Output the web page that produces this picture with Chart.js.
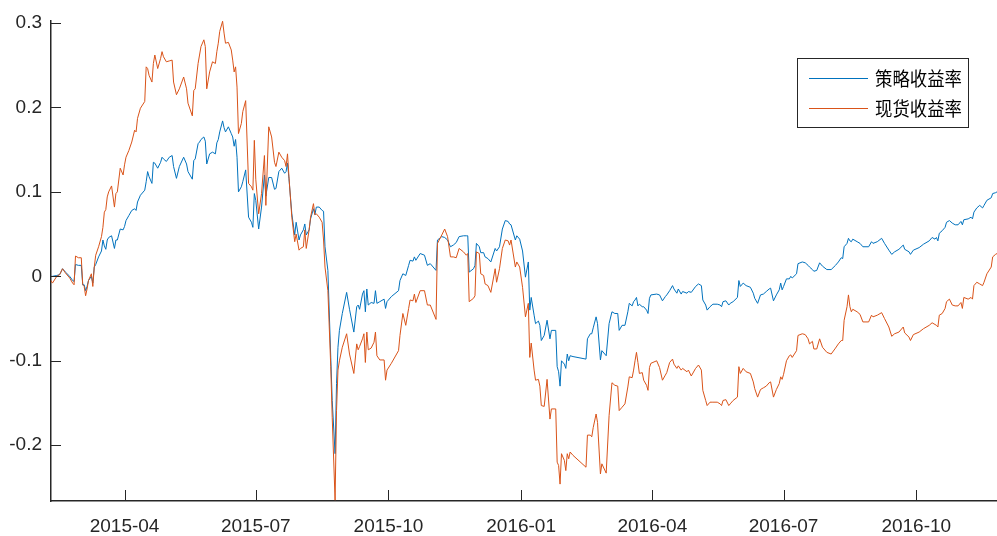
<!DOCTYPE html>
<html>
<head>
<meta charset="utf-8">
<title>策略收益率 vs 现货收益率</title>
<script src="https://cdn.jsdelivr.net/npm/chart.js@4.4.0/dist/chart.umd.min.js"></script>
<style>
    html, body { margin: 0; padding: 0; background: #fff; }
    #wrap { width: 997px; height: 536px; }
</style>
</head>
<body>
<div id="wrap"><canvas id="returnChart" width="997" height="536"></canvas></div>
<script>
// x 值: 距起始日的天数
const startDate = '2015-02-09';

const dayOffsets = [
    0, 1, 4, 6, 8, 10, 13, 15, 16, 17,
    19, 21, 22, 23, 24, 25, 26, 28, 29, 30,
    31, 33, 35, 36, 37, 38, 39, 40, 42, 44,
    45, 46, 48, 50, 51, 52, 54, 56, 58, 59,
    60, 62, 65, 66, 67, 68, 70, 71, 72, 74,
    76, 77, 78, 80, 82, 84, 85, 87, 89, 92,
    94, 95, 98, 99, 100, 102, 103, 104, 106, 107,
    108, 110, 112, 114, 115, 116, 117, 119, 120, 121,
    123, 125, 126, 127, 128, 129, 130, 132, 133, 135,
    137, 139, 140, 141, 142, 144, 146, 148, 149, 151,
    153, 155, 156, 158, 160, 162, 163, 164, 165, 167,
    169, 170, 172, 173, 175, 176, 177, 179, 180, 182,
    183, 184, 186, 188, 189, 190, 192, 194, 195, 197,
    198, 199, 200, 202, 205, 207, 210, 212, 213, 214,
    216, 217, 218, 219, 220, 222, 224, 225, 226, 228,
    231, 232, 233, 236, 241, 242, 244, 246, 248, 249,
    251, 252, 253, 256, 259, 261, 263, 267, 268, 271,
    273, 275, 277, 279, 281, 283, 286, 288, 289, 290,
    293, 294, 295, 297, 298, 300, 301, 303, 305, 308,
    309, 311, 313, 315, 317, 318, 319, 322, 323, 325,
    327, 329, 331, 332, 333, 335, 336, 338, 339, 340,
    342, 344, 346, 347, 350, 351, 352, 353, 354, 356,
    357, 358, 359, 360, 362, 371, 372, 374, 375, 376,
    378, 379, 381, 382, 385, 387, 389, 391, 393, 394,
    396, 398, 400, 401, 403, 404, 405, 406, 407, 408,
    410, 411, 413, 414, 415, 416, 420, 422, 424, 426,
    427, 429, 431, 432, 434, 435, 437, 438, 441, 442,
    444, 447, 449, 451, 452, 454, 455, 457, 459, 462,
    464, 465, 466, 468, 470, 471, 473, 476, 477, 478,
    480, 482, 485, 487, 488, 490, 492, 494, 496, 498,
    499, 501, 503, 505, 506, 507, 508, 510, 512, 513,
    514, 517, 518, 521, 523, 525, 526, 528, 529, 531,
    533, 535, 538, 541, 544, 546, 548, 549, 550, 552,
    553, 554, 555, 556, 559, 561, 563, 567, 569, 570,
    573, 576, 578, 581, 583, 585, 588, 591, 592, 595,
    596, 598, 602, 605, 609, 611, 613, 614, 615, 616,
    618, 620, 621, 623, 625, 627, 629, 631, 632, 633,
    636, 638, 639, 640, 642, 644, 646, 647, 649, 652,
    653, 655, 656
];

// 策略收益率
const strategyReturn = [
    0.000, 0.000, 0.001, 0.002, 0.009, 0.005, 0.000, -0.005, -0.006, 0.014,
    0.013, 0.013, -0.010, -0.010, -0.017, -0.012, -0.005, 0.000, -0.008, 0.011,
    0.014, 0.023, 0.030, 0.043, 0.036, 0.032, 0.043, 0.046, 0.048, 0.033,
    0.043, 0.043, 0.056, 0.055, 0.059, 0.066, 0.072, 0.078, 0.080, 0.078,
    0.088, 0.096, 0.102, 0.112, 0.124, 0.118, 0.110, 0.135, 0.134, 0.128,
    0.135, 0.141, 0.139, 0.136, 0.141, 0.143, 0.130, 0.116, 0.130, 0.141,
    0.133, 0.124, 0.115, 0.137, 0.139, 0.157, 0.159, 0.162, 0.165, 0.160,
    0.133, 0.145, 0.147, 0.145, 0.158, 0.162, 0.171, 0.184, 0.176, 0.171,
    0.177, 0.169, 0.165, 0.154, 0.162, 0.141, 0.100, 0.106, 0.112, 0.126,
    0.070, 0.064, 0.058, 0.098, 0.090, 0.056, 0.082, 0.120, 0.095, 0.117,
    0.117, 0.103, 0.104, 0.124, 0.128, 0.122, 0.124, 0.134, 0.116, 0.074,
    0.049, 0.064, 0.043, 0.049, 0.055, 0.062, 0.049, 0.055, 0.068, 0.080,
    0.073, 0.082, 0.082, 0.078, 0.077, 0.035, 0.007, -0.096, -0.147, -0.210,
    -0.127, -0.084, -0.064, -0.044, -0.019, -0.039, -0.066, -0.036, -0.034, -0.039,
    -0.021, -0.017, -0.042, -0.015, -0.034, -0.031, -0.032, -0.017, -0.032, -0.030,
    -0.027, -0.038, -0.030, -0.024, -0.017, -0.005, 0.003, 0.001, 0.013, 0.019,
    0.018, 0.023, 0.019, 0.027, 0.025, 0.013, 0.015, 0.007, 0.043, 0.047,
    0.046, 0.043, 0.035, 0.037, 0.040, 0.047, 0.048, 0.048, 0.048, 0.005,
    0.009, 0.013, 0.039, 0.035, 0.028, 0.028, 0.023, 0.021, 0.017, 0.033,
    0.030, 0.035, 0.056, 0.066, 0.065, 0.062, 0.061, 0.043, 0.048, 0.044,
    0.030, -0.001, 0.017, -0.040, -0.025, -0.046, -0.056, -0.053, -0.058, -0.076,
    -0.070, -0.052, -0.074, -0.064, -0.064, -0.107, -0.113, -0.130, -0.100, -0.104,
    -0.109, -0.092, -0.100, -0.094, -0.095, -0.098, -0.074, -0.068, -0.068, -0.061,
    -0.048, -0.056, -0.099, -0.088, -0.094, -0.056, -0.042, -0.044, -0.044, -0.064,
    -0.058, -0.058, -0.042, -0.032, -0.035, -0.030, -0.028, -0.025, -0.035, -0.033,
    -0.036, -0.036, -0.040, -0.044, -0.026, -0.022, -0.021, -0.022, -0.029, -0.024,
    -0.022, -0.017, -0.011, -0.015, -0.020, -0.015, -0.021, -0.018, -0.020, -0.018,
    -0.019, -0.012, -0.009, -0.011, -0.028, -0.034, -0.040, -0.036, -0.033, -0.033,
    -0.034, -0.036, -0.030, -0.029, -0.034, -0.032, -0.030, -0.025, -0.005, -0.012,
    -0.008, -0.011, -0.013, -0.020, -0.026, -0.032, -0.022, -0.021, -0.018, -0.015,
    -0.014, -0.029, -0.022, -0.016, -0.008, -0.016, -0.012, -0.003, -0.003, 0.000,
    -0.002, 0.003, 0.015, 0.017, 0.016, 0.013, 0.011, 0.008, 0.006, 0.007,
    0.016, 0.012, 0.008, 0.008, 0.013, 0.017, 0.022, 0.021, 0.035, 0.039,
    0.045, 0.042, 0.041, 0.044, 0.041, 0.039, 0.035, 0.035, 0.041, 0.039,
    0.041, 0.045, 0.039, 0.031, 0.026, 0.029, 0.032, 0.037, 0.032, 0.029,
    0.026, 0.031, 0.034, 0.038, 0.042, 0.046, 0.044, 0.046, 0.042, 0.051,
    0.054, 0.058, 0.064, 0.066, 0.063, 0.061, 0.061, 0.065, 0.061, 0.067,
    0.068, 0.070, 0.068, 0.076, 0.081, 0.084, 0.081, 0.084, 0.090, 0.093,
    0.098, 0.099, 0.100
];

// 现货收益率
const spotReturn = [
    -0.005, -0.008, 0.000, 0.002, 0.009, 0.004, -0.002, -0.008, -0.010, 0.024,
    0.022, 0.022, -0.010, -0.012, -0.023, -0.015, -0.005, 0.003, -0.012, 0.011,
    0.025, 0.035, 0.047, 0.058, 0.076, 0.079, 0.094, 0.100, 0.107, 0.082,
    0.098, 0.100, 0.128, 0.120, 0.132, 0.141, 0.149, 0.159, 0.173, 0.171,
    0.187, 0.199, 0.207, 0.248, 0.246, 0.238, 0.230, 0.252, 0.262, 0.246,
    0.258, 0.266, 0.260, 0.254, 0.255, 0.256, 0.230, 0.215, 0.222, 0.236,
    0.222, 0.205, 0.190, 0.220, 0.222, 0.252, 0.262, 0.272, 0.280, 0.272,
    0.222, 0.242, 0.254, 0.252, 0.266, 0.276, 0.290, 0.302, 0.288, 0.276,
    0.277, 0.268, 0.256, 0.242, 0.248, 0.224, 0.169, 0.181, 0.195, 0.208,
    0.110, 0.106, 0.102, 0.161, 0.115, 0.074, 0.098, 0.143, 0.084, 0.177,
    0.165, 0.135, 0.130, 0.147, 0.141, 0.137, 0.130, 0.145, 0.118, 0.070,
    0.041, 0.050, 0.031, 0.033, 0.035, 0.055, 0.033, 0.055, 0.070, 0.086,
    0.073, 0.074, 0.070, 0.064, 0.043, 0.011, -0.017, -0.107, -0.167, -0.265,
    -0.159, -0.111, -0.100, -0.084, -0.068, -0.092, -0.115, -0.080, -0.087, -0.083,
    -0.074, -0.068, -0.102, -0.066, -0.087, -0.085, -0.078, -0.066, -0.094, -0.099,
    -0.099, -0.123, -0.111, -0.103, -0.088, -0.070, -0.044, -0.058, -0.038, -0.028,
    -0.029, -0.021, -0.031, -0.017, -0.017, -0.034, -0.034, -0.051, 0.039, 0.049,
    0.056, 0.047, 0.023, 0.023, 0.022, 0.033, 0.029, 0.025, 0.027, -0.030,
    -0.026, -0.023, 0.029, 0.027, 0.003, 0.001, -0.009, -0.011, -0.019, 0.009,
    -0.007, 0.009, 0.033, 0.043, 0.042, 0.037, 0.043, 0.011, 0.017, 0.011,
    -0.013, -0.048, -0.032, -0.096, -0.079, -0.111, -0.123, -0.122, -0.130, -0.153,
    -0.154, -0.122, -0.169, -0.157, -0.157, -0.220, -0.224, -0.246, -0.210, -0.218,
    -0.230, -0.210, -0.216, -0.208, -0.212, -0.226, -0.188, -0.188, -0.190, -0.179,
    -0.163, -0.173, -0.234, -0.222, -0.233, -0.165, -0.126, -0.129, -0.130, -0.159,
    -0.155, -0.151, -0.131, -0.119, -0.120, -0.111, -0.100, -0.090, -0.102, -0.115,
    -0.114, -0.123, -0.129, -0.135, -0.108, -0.103, -0.100, -0.108, -0.123, -0.117,
    -0.114, -0.102, -0.098, -0.104, -0.109, -0.106, -0.111, -0.109, -0.113, -0.111,
    -0.118, -0.109, -0.105, -0.111, -0.135, -0.147, -0.153, -0.149, -0.149, -0.149,
    -0.151, -0.153, -0.147, -0.146, -0.153, -0.151, -0.147, -0.143, -0.107, -0.115,
    -0.109, -0.113, -0.115, -0.125, -0.133, -0.143, -0.134, -0.132, -0.130, -0.126,
    -0.125, -0.143, -0.134, -0.127, -0.119, -0.122, -0.116, -0.100, -0.094, -0.093,
    -0.096, -0.088, -0.070, -0.068, -0.069, -0.074, -0.080, -0.077, -0.086, -0.086,
    -0.074, -0.084, -0.090, -0.092, -0.085, -0.080, -0.076, -0.076, -0.052, -0.036,
    -0.022, -0.036, -0.042, -0.039, -0.042, -0.045, -0.054, -0.054, -0.046, -0.048,
    -0.046, -0.043, -0.050, -0.060, -0.071, -0.068, -0.066, -0.060, -0.067, -0.072,
    -0.076, -0.069, -0.066, -0.062, -0.058, -0.055, -0.057, -0.058, -0.060, -0.046,
    -0.044, -0.038, -0.030, -0.027, -0.034, -0.035, -0.035, -0.031, -0.038, -0.025,
    -0.027, -0.025, -0.027, -0.011, -0.007, -0.009, -0.011, -0.007, 0.003, 0.011,
    0.023, 0.026, 0.027
];

const seriesNames = ['策略收益率', '现货收益率'];
const seriesColors = ['#0072BD', '#D95319'];

const xTickDates = ['2015-04-01', '2015-07-01', '2015-10-01', '2016-01-01', '2016-04-01', '2016-07-01', '2016-10-01'];
const xTickLabels = ['2015-04', '2015-07', '2015-10', '2016-01', '2016-04', '2016-07', '2016-10'];
const yTickValues = [-0.2, -0.1, 0, 0.1, 0.2, 0.3];
const yTickLabels = ['-0.2', '-0.1', '0', '0.1', '0.2', '0.3'];

const axisColor = '#262626';
const tickFont = { family: "'Liberation Sans', Arial, Helvetica, sans-serif", size: 19 };

// 日期 -> 距起始日天数
function toOffset(dateStr) {
    return Math.round((Date.parse(dateStr) - Date.parse(startDate)) / 86400000);
}
const xTickOffsets = xTickDates.map(toOffset);

/**
 * 向内的刻度线 (MATLAB 风格)
 */
const inwardTicks = {
    id: 'inwardTicks',
    afterDatasetsDraw(chart) {
        const { ctx, chartArea, scales } = chart;
        ctx.save();
        ctx.strokeStyle = axisColor;
        ctx.lineWidth = 1;
        ctx.beginPath();
        scales.x.ticks.forEach(t => {
            const px = Math.round(scales.x.getPixelForValue(t.value)) + 0.5;
            ctx.moveTo(px, chartArea.bottom);
            ctx.lineTo(px, chartArea.bottom - 11);
        });
        scales.y.ticks.forEach(t => {
            const py = Math.round(scales.y.getPixelForValue(t.value)) + 0.5;
            ctx.moveTo(chartArea.left, py);
            ctx.lineTo(chartArea.left + 10, py);
        });
        ctx.stroke();
        ctx.restore();
    }
};

/**
 * 图内带边框的图例
 */
const boxLegend = {
    id: 'boxLegend',
    afterDraw(chart) {
        const ctx = chart.ctx;
        const box = { x: 797.5, y: 58.5, w: 171, h: 69 };
        ctx.save();
        ctx.fillStyle = '#fff';
        ctx.fillRect(box.x, box.y, box.w, box.h);
        ctx.strokeStyle = axisColor;
        ctx.lineWidth = 1;
        ctx.strokeRect(box.x, box.y, box.w, box.h);

        chart.data.datasets.forEach((ds, i) => {
            const y = 78.5 + i * 30;
            ctx.strokeStyle = ds.borderColor;
            ctx.lineWidth = 1;
            ctx.beginPath();
            ctx.moveTo(809, y);
            ctx.lineTo(868, y);
            ctx.stroke();

            ctx.fillStyle = '#000';
            ctx.font = "19px 'Noto Sans CJK SC', sans-serif";
            ctx.textBaseline = 'middle';
            ctx.textAlign = 'left';
            ctx.fillText(ds.label, 875, y, 87);
        });
        ctx.restore();
    }
};

new Chart(document.getElementById('returnChart'), {
    type: 'line',
    data: {
        datasets: [
            {
                label: seriesNames[0],
                data: dayOffsets.map((d, i) => ({ x: d, y: strategyReturn[i] })),
                borderColor: seriesColors[0],
                borderWidth: 1,
                pointRadius: 0,
                tension: 0,
                fill: false,
                order: 2
            },
            {
                label: seriesNames[1],
                data: dayOffsets.map((d, i) => ({ x: d, y: spotReturn[i] })),
                borderColor: seriesColors[1],
                borderWidth: 1,
                pointRadius: 0,
                tension: 0,
                fill: false,
                order: 1
            }
        ]
    },
    options: {
        responsive: false,
        animation: false,
        layout: { padding: { top: 20, right: 0, bottom: 0, left: 0 } },
        plugins: {
            legend: { display: false },
            tooltip: { enabled: false }
        },
        scales: {
            x: {
                type: 'linear',
                min: 0,
                max: dayOffsets[dayOffsets.length - 1],
                grid: { display: false, drawTicks: false },
                border: { display: true, color: axisColor, width: 1.5 },
                afterBuildTicks: scale => {
                    scale.ticks = xTickOffsets.map(v => ({ value: v }));
                },
                afterFit: scale => { scale.height = 35; },
                ticks: {
                    autoSkip: false,
                    maxRotation: 0,
                    padding: 14,
                    color: axisColor,
                    font: tickFont,
                    callback: (value, index) => xTickLabels[index]
                }
            },
            y: {
                min: -0.266,
                max: 0.303,
                grid: { display: false, drawTicks: false },
                border: { display: true, color: axisColor, width: 1.5 },
                afterBuildTicks: scale => {
                    scale.ticks = yTickValues.map(v => ({ value: v }));
                },
                afterFit: scale => { scale.width = 51; },
                ticks: {
                    padding: 9,
                    color: axisColor,
                    font: tickFont,
                    callback: (value, index) => yTickLabels[index]
                }
            }
        }
    },
    plugins: [inwardTicks, boxLegend]
});
</script>
</body>
</html>
